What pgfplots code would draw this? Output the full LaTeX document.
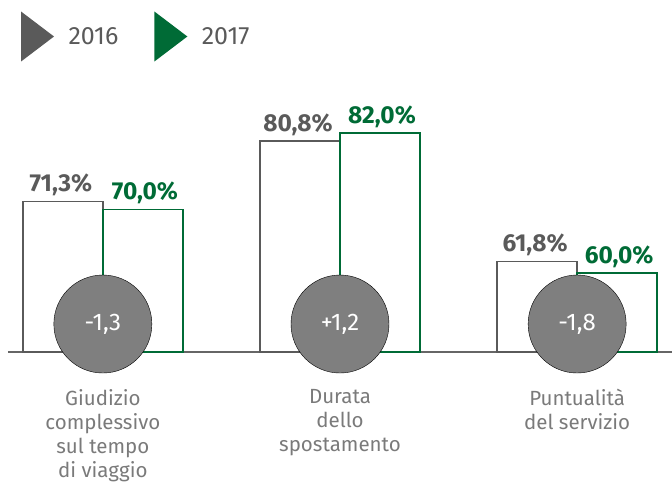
\documentclass[border=0pt]{standalone}
\usepackage{fontspec}
\setmainfont{Fira Sans}
\newfontfamily\regfont{Fira Sans}
\newfontfamily\valfont{Fira Sans}[FakeBold=1.2]
\usepackage{pgfplots}
\pgfplotsset{compat=1.18}
\definecolor{gray16}{HTML}{5A5A5A}
\definecolor{green17}{HTML}{006B36}
\definecolor{circ}{HTML}{7F7F7F}
\definecolor{catgray}{HTML}{7A7A7A}
\definecolor{axisgray}{HTML}{666666}
\begin{document}
\begin{tikzpicture}
\useasboundingbox (-8pt,-147pt) rectangle (664pt,352pt);
\begin{axis}[
  at={(0pt,0pt)}, anchor=south west,
  scale only axis, width=664pt, height=269.7pt,
  xmin=-0.4, xmax=2.4, ymin=47.6, ymax=90,
  axis x line*=bottom, axis y line=none,
  x axis line style={draw=axisgray, line width=1.5pt, -},
  xtick={0,1,2}, major tick length=0pt, xtick style={draw=none},
  xticklabels={{Giudizio\\complessivo\\sul tempo\\di viaggio},{Durata\\dello\\spostamento},{Puntualità\\del servizio}},
  xticklabel style={align=center, font=\fontsize{20.5}{24}\selectfont, text=catgray, anchor=north, yshift=-34pt},
  ytick=\empty,
  /pgf/number format/.cd, fixed, fixed zerofill, precision=1, use comma, assume math mode=true,
  /pgfplots/.cd,
  legend style={draw=none, fill=none, legend columns=2, at={(axis description cs:0.0196,1.1698)}, anchor=west, inner sep=0pt, outer sep=0pt,
    font=\fontsize{25}{30}\selectfont, text=gray16,
    nodes={inner sep=0pt},
    /tikz/every odd column/.append style={column sep=15pt},
    /tikz/every even column/.append style={column sep=36pt}},
  legend cell align=left,
]
\addplot[ybar, bar width=80pt, bar shift=-40pt, draw=gray16, fill=white, line width=1.5pt,
  nodes near coords={\pgfmathprintnumber{\pgfplotspointmeta}\%},
  every node near coord/.append style={font=\bfseries\fontsize{24.5}{28}\selectfont, text=gray16, inner sep=0pt, text depth=0pt, yshift=9pt, xshift=-42pt},
  legend image code/.code={\fill[gray16] (0pt,-23.5pt) -- (31pt,0pt) -- (0pt,23.5pt) -- cycle;}]
  coordinates {(0,71.3) (1,80.8) (2,61.8)};
\addlegendentry{2016}
\addplot[ybar, bar width=80pt, bar shift=40pt, draw=green17, fill=white, line width=1.5pt,
  nodes near coords={\pgfmathprintnumber{\pgfplotspointmeta}\%},
  every node near coord/.append style={font=\bfseries\fontsize{24.5}{28}\selectfont, text=green17, inner sep=0pt, text depth=0pt, yshift=9pt, xshift=42pt},
  legend image code/.code={\fill[green17] (0pt,-23.5pt) -- (31pt,0pt) -- (0pt,23.5pt) -- cycle;}]
  coordinates {(0,70.0) (1,82.0) (2,60.0)};
\addlegendentry{2017}
\addplot[forget plot, only marks, mark=|, mark size=5pt, mark options={draw=axisgray, line width=1.5pt}]
  coordinates {(0.5,46.81) (1.5,46.81)};
\addplot[forget plot, only marks, mark=*, mark size=49pt, mark options={fill=circ, draw=none},
  nodes near coords, point meta=explicit symbolic,
  every node near coord/.append style={anchor=center, font=\regfont\fontsize{24}{28}\selectfont, text=white}]
  coordinates {(0,52.0) [-1,3] (1,52.0) [+1,2] (2,52.0) [-1,8]};
\end{axis}
\end{tikzpicture}
\end{document}
